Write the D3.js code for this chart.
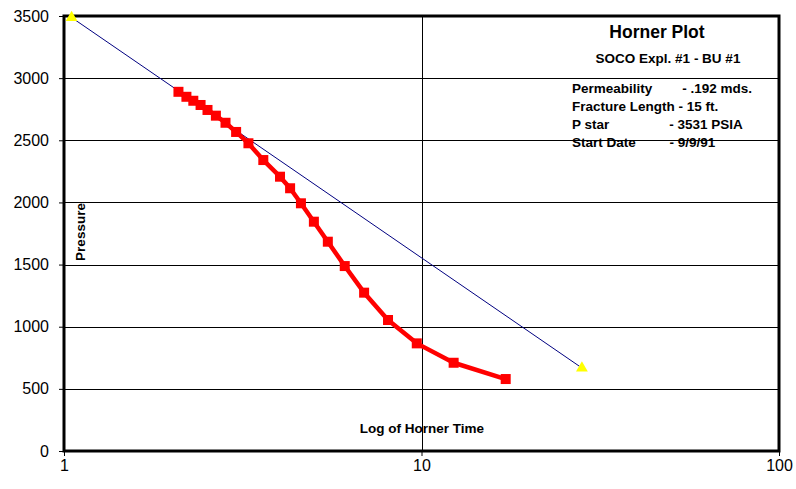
<!DOCTYPE html>
<html lang="en">
<head>
  <meta charset="UTF-8" />
  <title>Horner Plot</title>
  <script src="https://d3js.org/d3.v7.min.js"></script>
  <style>
    body { margin: 0; background: white; }
    svg { display: block; font-family: "Liberation Sans", Arial, sans-serif; }
    .info { white-space: pre; }
  </style>
</head>
<body>
  <svg id="chart" width="796" height="489"></svg>
  <script>
    // Horner time (log) vs pressure
    const hornerTime = [2.09, 2.20, 2.30, 2.41, 2.52, 2.66, 2.83, 3.03, 3.28, 3.61, 4.02,
      4.29, 4.60, 5.00, 5.47, 6.10, 6.91, 8.06, 9.70, 12.3, 17.2];
    const pressure = [2890, 2850, 2818, 2784, 2744, 2698, 2641, 2567, 2476, 2341, 2207,
      2114, 1993, 1845, 1684, 1488, 1274, 1054, 866, 710, 579];

    // straight-line extrapolation (end points are yellow triangles)
    const fitTime = [1.05, 28.1];
    const fitPressure = [3488, 668];

    const yTicks = [0, 500, 1000, 1500, 2000, 2500, 3000, 3500];
    const xTicks = [1, 10, 100];

    const titleText = 'Horner Plot';
    const subtitleText = 'SOCO Expl. #1 - BU #1';
    const infoLines = [
      'Permeability        - .192 mds.',
      'Fracture Length - 15 ft.',
      'P star                - 3531 PSIA',
      'Start Date         - 9/9/91'
    ];
    const xTitle = 'Log of Horner Time';
    const yTitle = 'Pressure';

    const svg = d3.select('#chart');
    const m = { left: 64, right: 779, top: 16, bottom: 451 };

    const x = d3.scaleLog().domain([1, 100]).range([m.left, m.right]);
    const y = d3.scaleLinear().domain([0, 3500]).range([m.bottom, m.top]);

    // horizontal gridlines
    svg.append('g')
      .selectAll('line')
      .data(yTicks)
      .join('line')
      .attr('x1', m.left).attr('x2', m.right)
      .attr('y1', d => Math.round(y(d)) + 0.5)
      .attr('y2', d => Math.round(y(d)) + 0.5)
      .attr('stroke', '#000')
      .attr('stroke-width', 1);

    // vertical gridlines
    svg.append('g')
      .selectAll('line')
      .data(xTicks)
      .join('line')
      .attr('y1', m.top).attr('y2', m.bottom)
      .attr('x1', d => Math.round(x(d)) + 0.5)
      .attr('x2', d => Math.round(x(d)) + 0.5)
      .attr('stroke', '#000')
      .attr('stroke-width', 1);

    // axes
    const yAxis = svg.append('g')
      .attr('transform', `translate(${m.left},0)`)
      .call(d3.axisLeft(y).tickValues(yTicks).tickSize(5).tickPadding(10).tickFormat(d3.format('d')));
    yAxis.select('.domain').remove();
    yAxis.selectAll('text').attr('font-size', 16).attr('font-family', '"Liberation Sans", Arial, sans-serif').attr('fill', '#000');

    const xAxis = svg.append('g')
      .attr('transform', `translate(0,${m.bottom})`)
      .call(d3.axisBottom(x).tickValues(xTicks).tickSize(5).tickPadding(4).tickFormat(d3.format('d')));
    xAxis.select('.domain').remove();
    xAxis.selectAll('text').attr('font-size', 16).attr('font-family', '"Liberation Sans", Arial, sans-serif').attr('fill', '#000');

    // plot border
    svg.append('rect')
      .attr('x', m.left).attr('y', m.top)
      .attr('width', m.right - m.left).attr('height', m.bottom - m.top)
      .attr('fill', 'none')
      .attr('stroke', '#000')
      .attr('stroke-width', 3);

    // fit line
    const fit = fitTime.map((t, i) => [t, fitPressure[i]]);
    svg.append('path')
      .datum(fit)
      .attr('d', d3.line().x(d => x(d[0])).y(d => y(d[1])))
      .attr('fill', 'none')
      .attr('stroke', '#000080')
      .attr('stroke-width', 1);

    // measured data
    const pts = hornerTime.map((t, i) => [t, pressure[i]]);
    svg.append('path')
      .datum(pts)
      .attr('d', d3.line().x(d => x(d[0])).y(d => y(d[1])))
      .attr('fill', 'none')
      .attr('stroke', '#ff0000')
      .attr('stroke-width', 4.5)
      .attr('stroke-linejoin', 'round');

    svg.append('g')
      .selectAll('rect')
      .data(pts)
      .join('rect')
      .attr('x', d => x(d[0]) - 5)
      .attr('y', d => y(d[1]) - 5)
      .attr('width', 10).attr('height', 10)
      .attr('fill', '#ff0000');

    svg.append('g')
      .selectAll('path')
      .data(fit)
      .join('path')
      .attr('d', d3.symbol(d3.symbolTriangle, 60))
      .attr('transform', d => `translate(${x(d[0])},${y(d[1])})`)
      .attr('fill', '#ffff00');

    // titles
    svg.append('text')
      .attr('x', 657).attr('y', 38)
      .attr('text-anchor', 'middle')
      .attr('font-size', 17.5).attr('font-weight', 'bold')
      .text(titleText);

    svg.append('text')
      .attr('x', 668).attr('y', 63)
      .attr('text-anchor', 'middle')
      .attr('font-size', 13.5).attr('font-weight', 'bold')
      .text(subtitleText);

    svg.append('g')
      .selectAll('text')
      .data(infoLines)
      .join('text')
      .attr('class', 'info')
      .attr('x', 572)
      .attr('y', (d, i) => 93 + i * 18)
      .attr('font-size', 13.5).attr('font-weight', 'bold')
      .text(d => d);

    svg.append('text')
      .attr('x', 422).attr('y', 433)
      .attr('text-anchor', 'middle')
      .attr('font-size', 13.5).attr('font-weight', 'bold')
      .text(xTitle);

    svg.append('text')
      .attr('transform', 'translate(85,232) rotate(-90)')
      .attr('text-anchor', 'middle')
      .attr('font-size', 13.5).attr('font-weight', 'bold')
      .text(yTitle);
  </script>
</body>
</html>
